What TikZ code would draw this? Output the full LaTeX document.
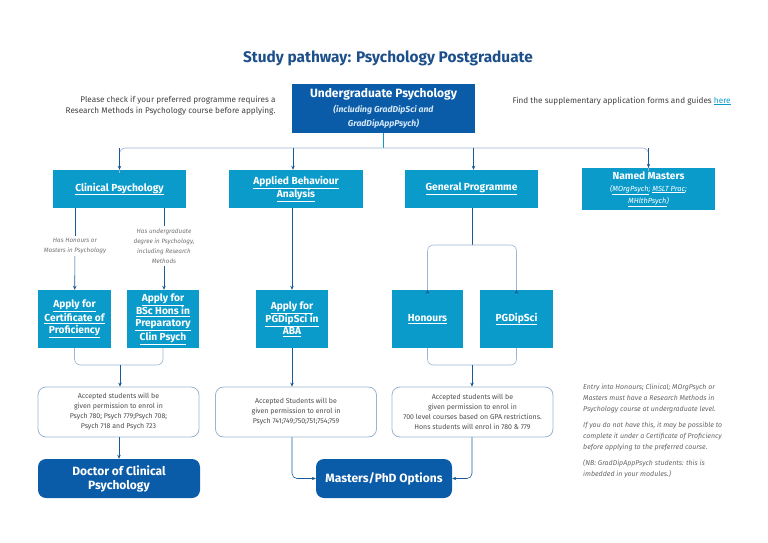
\documentclass[tikz,border=0pt]{standalone}
\usepackage{fontspec}
\setmainfont{Fira Sans}
\definecolor{uoadark}{HTML}{0B5CA8}
\definecolor{uoatitle}{HTML}{1D4F8A}
\definecolor{uoacyan}{HTML}{0A9BCB}
\definecolor{uoaline}{HTML}{1A5A96}
\definecolor{uoalight}{HTML}{9DB4CF}
\definecolor{uoasub}{HTML}{D3E6F6}
\usetikzlibrary{arrows.meta,positioning}
\newcommand{\lnk}[1]{\underline{#1}}
\newcommand{\ugsub}[1]{{\itshape\fontsize{8.6}{11}\selectfont\color{uoasub}#1}}
\newcommand{\mastsub}[1]{{\itshape\mdseries\fontsize{7.4}{9}\selectfont#1}}

\begin{document}
\begin{tikzpicture}[x=1pt, y=-1pt,
  dark/.style={fill=uoadark, text=white, rounded corners=#1,
    font=\bfseries\fontsize{12}{14}\selectfont, align=center},
  prog/.style={fill=uoacyan, text=white,
    font=\bfseries\fontsize{10.2}{12}\selectfont, align=center},
  accept/.style={draw=uoalight, thick, rounded corners=8pt, fill=white,
    text=black!70, font=\fontsize{7}{10}\selectfont, align=center,
    minimum width=161pt, minimum height=50pt},
  cond/.style={text=black!55, font=\itshape\fontsize{6.3}{10}\selectfont,
    align=center, inner sep=2pt},
  note/.style={text=black!60, font=\itshape\fontsize{7}{11}\selectfont,
    align=left, anchor=north west, inner sep=0pt},
  arr/.style={-{Stealth[length=4pt,width=3.5pt]}, uoaline, semithick},
  link/.style={uoalight, semithick, rounded corners=6pt},
]
  \useasboundingbox (0,0) rectangle (768,543);

  % Title and notes
  \node[text=uoatitle, font=\bfseries\fontsize{15.4}{18}\selectfont] (title) at (388,58) {Study pathway: Psychology Postgraduate};
  \node[text=black!75, font=\fontsize{8.2}{11}\selectfont, align=right, anchor=east] (check) at (279,106) {Please check if your preferred programme requires a\\Research Methods in Psychology course before applying.};
  \node[text=black!75, font=\fontsize{8.2}{11}\selectfont, anchor=west] (forms) at (509,101) {Find the supplementary application forms and guides \textcolor{uoacyan}{\lnk{here}}};

  % Programmes
  \node[dark=0pt, minimum width=183pt, minimum height=49pt] (ug) at (383.5,108.5) {Undergraduate Psychology\\[1pt]\ugsub{(including GradDipSci and}\\\ugsub{GradDipAppPsych)}};
  \node[prog, minimum width=133pt, minimum height=38pt] (clin) at (119.5,189) {\lnk{Clinical Psychology}};
  \node[prog, minimum width=134pt, minimum height=38pt] (aba) at (296,189) {\lnk{Applied Behaviour}\\\lnk{Analysis}};
  \node[prog, minimum width=133pt, minimum height=38pt] (gen) at (471.5,189) {\lnk{General Programme}};
  \node[prog, minimum width=133pt, minimum height=38pt] (named) at (648.5,189) {Named Masters\\\mastsub{(\lnk{MOrgPsych}; \lnk{MSLT Prac};}\\\mastsub{\lnk{MHlthPsych})}};

  % Entry conditions
  \node[cond] (hons) at (75,246) {Has Honours or\\Masters in Psychology};
  \node[cond] (ugdeg) at (164,246) {Has undergraduate\\degree in Psychology,\\including Research\\Methods};

  % Applications
  \node[prog, minimum width=73pt, minimum height=58pt] (cert) at (74.5,319) {\lnk{Apply for}\\\lnk{Certificate of}\\\lnk{Proficiency}};
  \node[prog, minimum width=72pt, minimum height=58pt] (bsc) at (163,319) {\lnk{Apply for}\\\lnk{BSc Hons in}\\\lnk{Preparatory}\\\lnk{Clin Psych}};
  \node[prog, minimum width=72pt, minimum height=58pt] (pgaba) at (292,319) {\lnk{Apply for}\\\lnk{PGDipSci in}\\\lnk{ABA}};
  \node[prog, minimum width=71pt, minimum height=58pt] (honours) at (427.5,319) {\lnk{Honours}};
  \node[prog, minimum width=73pt, minimum height=58pt] (pgdip) at (516.5,319) {\lnk{PGDipSci}};

  % Accepted students
  \node[accept] (acc1) at (118.5,412) {Accepted students will be\\given permission to enrol in\\Psych 780; Psych 779;Psych 708;\\Psych 718 and Psych 723};
  \node[accept] (acc2) at (296,412) {Accepted Students will be\\given permission to enrol in\\Psych 741;749;750;751;754;759};
  \node[accept] (acc3) at (472.5,412) {Accepted students will be\\given permission to enrol in\\700 level courses based on GPA restrictions.\\Hons students will enrol in 780 \& 779};

  % Outcomes
  \node[dark=8pt, minimum width=162pt, minimum height=39pt] (dclin) at (119,478.5) {Doctor of Clinical\\Psychology};
  \node[dark=8pt, minimum width=136pt, minimum height=39pt] (mphd) at (384,478.5) {Masters/PhD Options};

  % Side note
  \node[note] (entry) at (583,384) {Entry into Honours; Clinical; MOrgPsych or\\Masters must have a Research Methods in\\Psychology course at undergraduate level.};
  \node[note] (cop) at (583,422) {If you do not have this, it may be possible to\\complete it under a Certificate of Proficiency\\before applying to the preferred course.};
  \node[note] (nb) at (583,459) {(NB: GradDipAppPsych students: this is\\imbedded in your modules.)};

  % Connectors
  \coordinate (bus) at (383.5,148);
  \coordinate (mclin) at (120,365);
  \coordinate (mgen) at (472,365);
  \coordinate (sgen) at (472,245);
  \draw[uoacyan, semithick] (ug.south) -- (bus);
  \draw[link] (bus) -| ([yshift=-3pt]clin.north);
  \draw[link] (bus) -| ([yshift=-3pt]named.north);
  \draw[arr] (clin.north |- bus) -- (clin.north);
  \draw[arr] (named.north |- bus) -- (named.north);
  \draw[arr] (aba.north |- bus) ++(-3,0) -- ([xshift=-3pt]aba.north);
  \draw[arr] (gen.north |- bus) ++(2,0) -- ([xshift=2pt]gen.north);

  \draw[uoaline, semithick] (clin.south -| hons) -- (hons);
  \draw[arr] (hons) -- (cert);
  \draw[uoaline, semithick] (clin.south -| ugdeg) -- (ugdeg);
  \draw[arr] (ugdeg) -- (ugdeg |- bsc.north);
  \draw[arr] (aba.south -| pgaba) -- (pgaba);

  \draw[uoaline, semithick] (gen.south -| sgen) -- (sgen);
  \draw[link] (sgen) -| ([yshift=-3pt]honours.north);
  \draw[link] (sgen) -| ([yshift=-3pt]pgdip.north);
  \draw[arr] ([yshift=-3pt]honours.north) -- (honours.north);
  \draw[arr] ([yshift=-3pt]pgdip.north) -- (pgdip.north);

  \draw[link] (cert.south) |- (mclin) -| (bsc.south);
  \draw[arr] (mclin) -- (acc1.north -| mclin);
  \draw[arr] (pgaba) -- (acc2.north -| pgaba);
  \draw[link] (honours.south) |- (mgen) -| (pgdip.south);
  \draw[arr] (mgen) -- (acc3.north -| mgen);

  \draw[arr] (acc1.south -| dclin) -- (dclin);
  \draw[arr, rounded corners=5pt] (acc2.south -| pgaba) |- (mphd.west);
  \draw[arr, rounded corners=5pt] (acc3.south -| mgen) |- (mphd.east);
\end{tikzpicture}
\end{document}
